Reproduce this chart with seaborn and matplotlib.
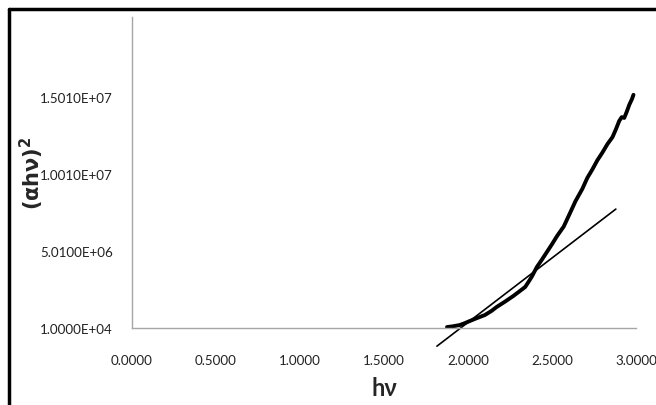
import numpy as np
import pandas as pd
import matplotlib
matplotlib.use("Agg")
import matplotlib.pyplot as plt
from matplotlib.lines import Line2D
import seaborn as sns

sns.set_style("white")

hv = [1.875, 1.91, 1.95, 1.98, 2.01, 2.05, 2.10, 2.14, 2.17, 2.22, 2.27, 2.31, 2.34, 2.36,
      2.38, 2.41, 2.44, 2.47, 2.50, 2.53, 2.57, 2.61, 2.64, 2.68, 2.71, 2.74, 2.77,
      2.80, 2.83, 2.86, 2.88, 2.90, 2.915, 2.93, 2.945, 2.96, 2.975, 2.985]
ahv2 = [0.07e6, 0.12e6, 0.20e6, 0.32e6, 0.46e6, 0.64e6, 0.85e6, 1.12e6, 1.37e6, 1.72e6,
        2.09e6, 2.42e6, 2.67e6, 3.00e6, 3.35e6, 3.97e6, 4.45e6, 4.95e6, 5.45e6, 5.98e6,
        6.60e6, 7.54e6, 8.25e6, 9.03e6, 9.75e6, 10.3e6, 10.9e6, 11.4e6, 11.95e6, 12.4e6,
        12.9e6, 13.45e6, 13.7e6, 13.65e6, 14.05e6, 14.5e6, 14.85e6, 15.15e6]

# tangent (linear fit) line end points
fit_hv = [1.815, 2.88]
fit_val = [-1.17e6, 7.73e6]

xticks = [0.0, 0.5, 1.0, 1.5, 2.0, 2.5, 3.0]
yticks = [1.0e4, 5.01e6, 1.001e7, 1.501e7]
ytick_labels = ["1.0000E+04", "5.0100E+06", "1.0010E+07", "1.5010E+07"]

data = pd.DataFrame({"hv": hv, "ahv2": ahv2})
fit = pd.DataFrame({"hv": fit_hv, "ahv2": fit_val})

fig = plt.figure(figsize=(6.56, 4.06), dpi=100)
ax = fig.add_axes([132 / 656, 1 - 329 / 406, (636 - 132) / 656, (329 - 18) / 406])

sns.lineplot(data=data, x="hv", y="ahv2", ax=ax, color="black", linewidth=2.8,
             solid_capstyle="round", solid_joinstyle="round")
sns.lineplot(data=fit, x="hv", y="ahv2", ax=ax, color="black", linewidth=1.2, clip_on=False)

ax.set_xlim(0, 3.0)
ax.set_ylim(1.0e4, 2.02e7)
ax.set_xticks(xticks)
ax.set_xticklabels([f"{t:.4f}" for t in xticks])
ax.set_yticks(yticks)
ax.set_yticklabels(ytick_labels)

tick_font = "Lato"
for lab in ax.get_xticklabels() + ax.get_yticklabels():
    lab.set_fontfamily(tick_font)
    lab.set_fontsize(9.6)
    lab.set_color("#222222")
ax.tick_params(axis="x", length=0, pad=19)
ax.tick_params(axis="y", length=0, pad=14)

for s in ["top", "right"]:
    ax.spines[s].set_visible(False)
for s in ["left", "bottom"]:
    ax.spines[s].set_color("#a6a6a6")
    ax.spines[s].set_linewidth(1)

ax.set_xlabel("hν", fontsize=17, fontweight="bold", fontfamily="Lato")
ax.set_ylabel("(αhν)$^{\\mathbf{2}}$", fontsize=15, fontweight="bold")
ax.xaxis.set_label_coords(0.5, -0.155)
ax.yaxis.set_label_coords(-0.17, 0.5)

# outer frame of the screenshot
fig.add_artist(Line2D([9 / 656, 9 / 656], [0, 1 - 10 / 406], transform=fig.transFigure,
                      color="black", linewidth=2.5))
fig.add_artist(Line2D([9 / 656, 1], [1 - 10 / 406, 1 - 10 / 406], transform=fig.transFigure,
                      color="black", linewidth=2.5))

fig.savefig("out.png", dpi=100)
